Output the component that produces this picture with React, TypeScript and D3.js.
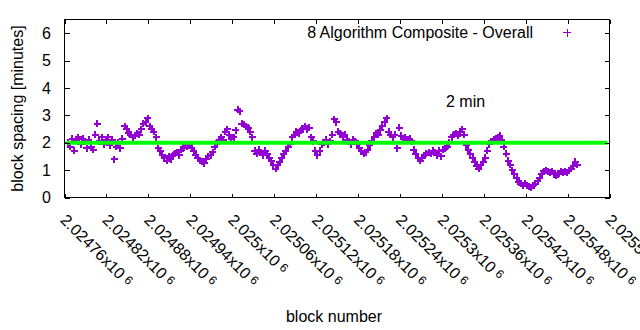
import React from "react";
import * as d3 from "d3";

const blockStart = 2024765;
const blockStep = 3;
const spacing: number[] = [
  2.0, 1.85, 2.15, 1.7, 2.1, 2.2, 1.95, 2.15, 2.05, 1.8,
  2.1, 1.85, 1.75, 2.3, 2.7, 2.05, 2.2, 1.95, 2.1, 2.2,
  1.9, 2.1, 1.4, 1.85, 2.0, 1.8, 2.15, 2.6, 2.5, 2.35,
  2.3, 2.2, 2.25, 2.35, 2.3, 2.5, 2.7, 2.75, 2.9, 2.6,
  2.5, 2.4, 2.2, 1.8, 1.7, 1.55, 1.45, 1.35, 1.5, 1.4,
  1.55, 1.6, 1.65, 1.55, 1.75, 1.8, 1.9, 1.85, 1.9, 1.8,
  1.7, 1.55, 1.45, 1.35, 1.3, 1.25, 1.4, 1.5, 1.55, 1.65,
  1.85, 2.0, 2.05, 2.2, 2.1, 2.4, 2.5, 2.3, 2.15, 2.2,
  2.45, 3.2, 3.15, 2.7, 2.65, 2.6, 2.55, 2.4, 2.2, 1.7,
  1.6, 1.75, 1.65, 1.55, 1.7, 1.6, 1.45, 1.35, 1.2, 1.05,
  1.2, 1.3, 1.45, 1.6, 1.7, 1.85, 1.95, 2.2, 2.3, 2.4,
  2.35, 2.45, 2.5, 2.6, 2.5, 2.55, 2.2, 2.05, 1.7, 1.55,
  1.7, 1.95, 2.0, 2.1, 1.95, 2.05, 2.3, 2.85, 2.75, 2.4,
  2.35, 2.2, 2.3, 2.1, 2.05, 1.95, 2.1, 2.05, 1.95, 1.8,
  1.7, 1.6, 1.65, 1.75, 1.9, 2.05, 2.2, 2.35, 2.3, 2.45,
  2.6, 2.75, 2.9, 2.4, 2.3, 2.2, 2.3, 1.8, 2.55, 2.25,
  2.15, 2.2, 2.1, 2.15, 2.05, 1.75, 1.6, 1.45, 1.35, 1.45,
  1.55, 1.6, 1.65, 1.6, 1.7, 1.65, 1.55, 1.7, 1.5, 1.75,
  1.8, 1.85, 2.0, 2.2, 2.3, 2.35, 2.25, 2.4, 2.5, 2.3,
  1.9, 1.75, 1.6, 1.45, 1.3, 1.15, 1.05, 1.2, 1.3, 1.45,
  1.7, 1.95, 2.05, 2.1, 2.15, 2.2, 2.25, 2.1, 1.85, 1.6,
  1.35, 1.2, 1.0, 0.85, 0.7, 0.55, 0.5, 0.45, 0.5, 0.45,
  0.4, 0.35, 0.45, 0.5, 0.6, 0.7, 0.85, 0.95, 1.0, 0.95,
  0.9, 0.95, 0.85, 0.8, 0.85, 0.95, 0.9, 0.95, 0.9, 1.0,
  1.05, 1.15, 1.3, 1.2,
];
const xTicks: number[] = [
  2024760, 2024820, 2024880, 2024940, 2025000, 2025060, 2025120,
  2025180, 2025240, 2025300, 2025360, 2025420, 2025480, 2025540,
];
const yTicks: number[] = [0, 1, 2, 3, 4, 5, 6];
const targetMinutes = 2;
const legendLabel = "8 Algorithm Composite - Overall";
const targetLabel = "2 min";
const xTitle = "block number";
const yTitle = "block spacing [minutes]";

const W = 640;
const H = 330;
const L = 64.5;
const R = 609.5;
const T = 19.5;
const B = 197.5;
const FONT = "'Liberation Sans', Arial, sans-serif";
const PURPLE = "#9400d3";

function mantissa(v: number): string {
  return String(parseFloat((v / 1e6).toPrecision(6)));
}

export default function App() {
  const x = d3.scaleLinear().domain([2024760, 2025540]).range([L, R]);
  const y = d3.scaleLinear().domain([0, 6.5]).range([B, T]);
  const pts = spacing.map((v, i) => ({ b: blockStart + i * blockStep, v }));
  const arm = 3.5;
  const pathD = pts
    .map((p) => {
      const cx = x(p.b);
      const cy = y(p.v);
      return `M${cx - arm},${cy}h${arm * 2}M${cx},${cy - arm}v${arm * 2}`;
    })
    .join("");

  return (
    <svg
      width={W}
      height={H}
      style={{ position: "fixed", left: 0, top: 0, background: "#fff" }}
      fontFamily={FONT}
    >
      <rect x={0} y={0} width={W} height={H} fill="#fff" />
      {/* data */}
      <path d={pathD} stroke={PURPLE} strokeWidth={2} fill="none" shapeRendering="crispEdges" />
      {/* target line */}
      <line x1={L + 2} x2={R - 2} y1={y(targetMinutes)} y2={y(targetMinutes)} stroke="#00ff00" strokeWidth={4} />
      {/* frame */}
      <rect x={L} y={T} width={R - L} height={B - T} fill="none" stroke="#000" strokeWidth={1} shapeRendering="crispEdges" />
      {/* y ticks */}
      {yTicks.map((t) => (
        <g key={"y" + t}>
          <line x1={L} x2={L + 5} y1={Math.round(y(t)) + 0.5} y2={Math.round(y(t)) + 0.5} stroke="#000" shapeRendering="crispEdges" />
          <line x1={R - 5} x2={R} y1={Math.round(y(t)) + 0.5} y2={Math.round(y(t)) + 0.5} stroke="#000" shapeRendering="crispEdges" />
          <text x={51} y={y(t) + 5.7} fontSize={16} textAnchor="end" fill="#000">
            {t}
          </text>
        </g>
      ))}
      {/* x ticks */}
      {xTicks.map((t) => {
        const px = Math.round(x(t)) + 0.5;
        return (
          <g key={"x" + t}>
            <line x1={px} x2={px} y1={B} y2={B - 4} stroke="#000" shapeRendering="crispEdges" />
            <line x1={px} x2={px} y1={T} y2={T + 4} stroke="#000" shapeRendering="crispEdges" />
            <text
              transform={`translate(${x(t) - 5},${221}) rotate(45)`}
              fontSize={16}
              fill="#000"
            >
              {mantissa(t) + "x10"}
              <tspan dx={4} dy={-3} fontSize={12}>6</tspan>
            </text>
          </g>
        );
      })}
      {/* legend */}
      <text x={533} y={37.5} fontSize={16} textAnchor="end" fill="#000">
        {legendLabel}
      </text>
      <path d={`M${563},${32.5}h8M${567},${28.5}v8`} stroke={PURPLE} strokeWidth={1} shapeRendering="crispEdges" />
      {/* annotation */}
      <text x={x(2025306)} y={y(3.5) + 5} fontSize={16} fill="#000">
        {targetLabel}
      </text>
      {/* axis titles */}
      <text x={334} y={321.5} fontSize={16} textAnchor="middle" fill="#000">
        {xTitle}
      </text>
      <text transform={`translate(23,${(T + B) / 2}) rotate(-90)`} fontSize={16} textAnchor="middle" fill="#000">
        {yTitle}
      </text>
    </svg>
  );
}
